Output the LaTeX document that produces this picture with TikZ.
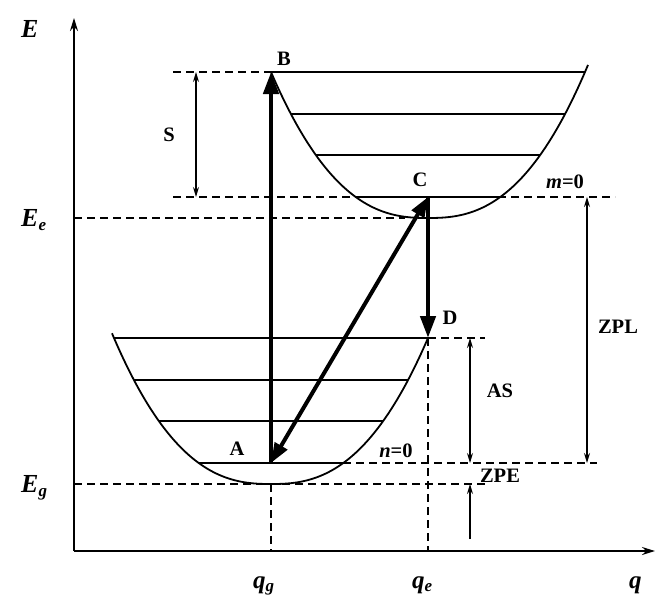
\documentclass[tikz,border=0pt]{standalone}
\usepackage{fontspec}
\setmainfont{Liberation Serif}
\usetikzlibrary{arrows.meta}
\begin{document}
\begin{tikzpicture}[x=1pt,y=-1pt,
  lbl/.style={font=\fontsize{20.5}{20.5}\selectfont\bfseries, inner sep=0pt},
  axlbl/.style={font=\fontsize{26}{26}\selectfont\bfseries\itshape, inner sep=0pt},
  qlbl/.style={font=\fontsize{25}{25}\selectfont\bfseries\itshape, inner sep=0pt},
  axisline/.style={line width=1.8pt},
  curveline/.style={line width=1.8pt},
  levelline/.style={line width=1.3pt},
  dashline/.style={line width=1.3pt, dash pattern=on 8pt off 5pt},
  dimarrow/.style={line width=1.2pt, {Stealth[length=10pt,width=6pt]}-{Stealth[length=10pt,width=6pt]}},
  onearrow/.style={line width=1.2pt, -{Stealth[length=10pt,width=6pt]}},
  bigarrow/.style={line width=4.5pt, -{Triangle[length=22pt,width=15pt]}},
  bigdouble/.style={line width=4pt, {Triangle[length=20pt,width=14pt]}-{Triangle[length=20pt,width=14pt]}}
]
\useasboundingbox (0,0) rectangle (664,602);

% key points
\coordinate (O) at (74,551);
\coordinate (Ytop) at (74,18);
\coordinate (Xend) at (655,551);
\coordinate (A) at (271,463);
\coordinate (B) at (271,72);
\coordinate (C) at (428,197);
\coordinate (D) at (428,338);
\coordinate (Gmin) at (271,484);
\coordinate (Emin) at (428,218);

% axes
\draw[axisline, -{Stealth[length=13pt,width=8pt]}] (O) -- (Ytop);
\draw[axisline, -{Stealth[length=13pt,width=8pt]}] (O) -- (Xend);

% dashed guide lines
\coordinate (Sbot) at (173,197);
\coordinate (Stop) at (173,72);
\coordinate (mEnd) at (615,197);
\coordinate (EeL) at (74,218);
\coordinate (EeR) at (405,218);
\coordinate (EgL) at (74,484);
\coordinate (EgR) at (485,484);
\coordinate (nL) at (343,463);
\coordinate (nR) at (597,463);
\coordinate (DR) at (485,338);
\coordinate (qg) at (271,551);
\coordinate (qe) at (428,551);
\draw[dashline] (Stop) -- (B);
\draw[dashline] (Sbot) -- (mEnd);
\draw[dashline] (EeL) -- (EeR);
\draw[dashline] (EgL) -- (EgR);
\draw[dashline] (nL) -- (nR);
\draw[dashline] (D) -- (DR);
\draw[dashline] (D) -- (qe);
\draw[dashline] (Gmin) -- (qg);

% upper potential curve
\draw[curveline] plot[domain=271:588, samples=150]
  (\x, {218-146*((\x-428)/157)*((\x-428)/157)*sqrt(abs((\x-428)/157))});
% lower potential curve
\draw[curveline] plot[domain=112:428, samples=150]
  (\x, {484-146*((\x-271)/157)*((\x-271)/157)*sqrt(abs((\x-271)/157))});

% upper levels
\draw[levelline] (B) -- (585,72);
\draw[levelline] (291,114) -- (565,114);
\draw[levelline] (316,155) -- (540,155);
\draw[levelline] (356,197) -- (500,197);
% lower levels
\draw[levelline] (114,338) -- (D);
\draw[levelline] (134,380) -- (408,380);
\draw[levelline] (159,421) -- (383,421);
\draw[levelline] (199,463) -- (343,463);

% transitions
\draw[bigarrow] (A) -- (B);
\draw[bigdouble] (A) -- (C);
\draw[bigarrow] (C) -- (D);

% dimension arrows
\coordinate (S1) at (196,72);
\coordinate (S2) at (196,197);
\coordinate (AS1) at (470,338);
\coordinate (AS2) at (470,463);
\coordinate (Z1) at (587,197);
\coordinate (Z2) at (587,463);
\coordinate (ZE1) at (470,539);
\coordinate (ZE2) at (470,484);
\draw[dimarrow] (S1) -- (S2);
\draw[dimarrow] (AS1) -- (AS2);
\draw[dimarrow] (Z1) -- (Z2);
\draw[onearrow] (ZE1) -- (ZE2);

% labels
\node[axlbl, anchor=base west] (lE) at (21,38) {E};
\node[axlbl, anchor=base west] (lEe) at (21,226) {E\raisebox{-0.35ex}{\fontsize{17}{17}\selectfont e}};
\node[axlbl, anchor=base west] (lEg) at (21,492) {E\raisebox{-0.35ex}{\fontsize{17}{17}\selectfont g}};
\node[qlbl, anchor=base west] (lqg) at (253,588) {q\raisebox{-0.3ex}{\fontsize{17}{17}\selectfont g}};
\node[qlbl, anchor=base west] (lqe) at (412,588) {q\raisebox{-0.3ex}{\fontsize{17}{17}\selectfont e}};
\node[qlbl, anchor=base west] (lq) at (629,588) {q};
\node[lbl] (lB) at (284,59) {B};
\node[lbl] (lC) at (420,180) {C};
\node[lbl] (lD) at (450,318) {D};
\node[lbl] (lA) at (237,449) {A};
\node[lbl] (lS) at (169,135) {S};
\node[lbl] (lAS) at (500,391) {AS};
\node[lbl] (lZPL) at (618,327) {ZPL};
\node[lbl] (lZPE) at (500,476) {ZPE};
\node[lbl] (lm) at (565,182) {\textit{m}=0};
\node[lbl] (ln) at (396,451) {\textit{n}=0};
\end{tikzpicture}
\end{document}
